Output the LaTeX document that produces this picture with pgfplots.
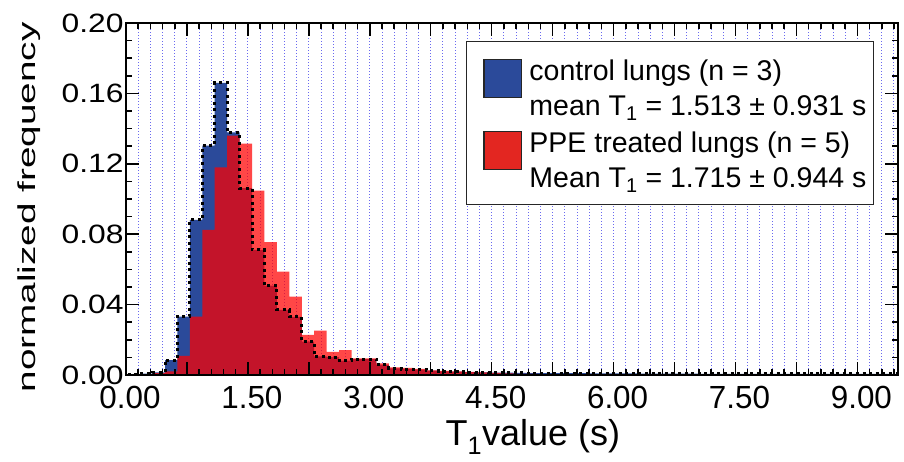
\documentclass[border=0pt]{standalone}
\usepackage{fontspec}
\setmainfont{Liberation Sans}
\usepackage{pgfplots}
\pgfplotsset{compat=1.18}
\usepackage{pgfplotstable}
\definecolor{ctrlblue}{RGB}{43,74,154}
\definecolor{ppered}{RGB}{255,0,0}
\definecolor{legred}{RGB}{227,38,33}
\definecolor{gridblue}{RGB}{105,105,240}

% left bin edge, normalized frequency
\pgfplotstableread{
x y
0.021 0.0005
0.174 0.0008
0.327 0.0015
0.480 0.0085
0.633 0.0332
0.786 0.0882
0.939 0.1303
1.092 0.1660
1.245 0.1378
1.398 0.1062
1.551 0.0711
1.704 0.0508
1.857 0.0370
2.010 0.0330
2.163 0.0190
2.316 0.0106
2.469 0.0101
2.622 0.0082
2.775 0.0090
2.928 0.0090
3.081 0.0058
3.234 0.0038
3.387 0.0033
3.540 0.0030
3.693 0.0025
3.846 0.0021
3.999 0.0019
4.152 0.0017
4.305 0.0015
4.458 0.0014
4.611 0.0013
4.764 0.0012
4.917 0.0011
5.070 0.0011
5.223 0.0010
5.376 0.0010
5.529 0.0010
5.682 0.0009
5.835 0.0009
5.988 0.0009
6.141 0.0009
6.294 0.0008
6.447 0.0008
6.600 0.0008
6.753 0.0008
6.906 0.0008
7.059 0.0007
7.212 0.0007
7.365 0.0007
7.518 0.0007
7.671 0.0007
7.824 0.0007
7.977 0.0006
8.130 0.0006
8.283 0.0006
8.436 0.0006
8.589 0.0006
8.742 0.0006
8.895 0.0006
9.048 0.0006
9.201 0.0006
9.354 0.0006
9.507 0.0006
}\controltab

\pgfplotstableread{
x y
0.021 0.0003
0.174 0.0005
0.327 0.0010
0.480 0.0020
0.633 0.0108
0.786 0.0332
0.939 0.0825
1.092 0.1180
1.245 0.1360
1.398 0.1314
1.551 0.1047
1.704 0.0755
1.857 0.0588
2.010 0.0445
2.163 0.0228
2.316 0.0252
2.469 0.0132
2.622 0.0142
2.775 0.0095
2.928 0.0095
3.081 0.0066
3.234 0.0043
3.387 0.0040
3.540 0.0035
3.693 0.0027
3.846 0.0024
3.999 0.0020
4.152 0.0018
4.305 0.0015
4.458 0.0012
4.611 0.0009
4.764 0.0007
4.917 0.0006
5.070 0.0005
5.223 0.0005
5.376 0.0004
5.529 0.0004
5.682 0.0004
5.835 0.0003
5.988 0.0003
6.141 0.0003
6.294 0.0003
6.447 0.0003
6.600 0.0003
6.753 0.0002
6.906 0.0002
7.059 0.0002
7.212 0.0002
7.365 0.0002
7.518 0.0002
7.671 0.0002
7.824 0.0002
7.977 0.0002
8.130 0.0002
8.283 0.0002
8.436 0.0002
8.589 0.0002
8.742 0.0002
8.895 0.0002
9.048 0.0002
9.201 0.0002
9.354 0.0002
9.507 0.0002
}\ppetab

\newcommand{\xtl}[1]{\scalebox{0.98}[1]{#1}}
\newcommand{\ytl}[1]{\scalebox{1.2}[1]{#1}}
\newcommand{\swatch}[1]{\raisebox{-16pt}[0pt][0pt]{\setlength{\fboxsep}{0pt}\setlength{\fboxrule}{1.2pt}\fcolorbox{black!85}{#1}{\rule{0pt}{36.6pt}\hspace{36.6pt}}}}

\pgfplotsset{
  commonframe/.style={
    at={(126pt,86pt)}, anchor=south west,
    scale only axis, width=772pt, height=352pt,
    xmin=0, xmax=9.5, ymin=0, ymax=0.2,
  }
}

\begin{document}
\begin{tikzpicture}
% background axis: only the dotted vertical grid
\begin{axis}[
  commonframe,
  axis line style={draw=none},
  tick style={draw=none},
  xtick={0,0.75,1.5,2.25,3,3.75,4.5,5.25,6,6.75,7.5,8.25,9},
  minor xtick={0.15,0.3,0.45,0.6,0.9,1.05,1.2,1.35,1.65,1.8,1.95,2.1,2.4,2.55,2.7,2.85,3.15,3.3,3.45,3.6,3.9,4.05,4.2,4.35,4.65,4.8,4.95,5.1,5.4,5.55,5.7,5.85,6.15,6.3,6.45,6.6,6.9,7.05,7.2,7.35,7.65,7.8,7.95,8.1,8.4,8.55,8.7,8.85,9.15,9.3,9.45},
  xticklabels={}, ytick=\empty,
  xmajorgrids, xminorgrids,
  grid style={gridblue, line width=0.9pt, dash pattern=on 1pt off 2pt},
  minor grid style={gridblue, line width=0.9pt, dash pattern=on 1pt off 2pt},
]
\end{axis}
% main axis
\begin{axis}[
  commonframe,
  axis on top,
  axis line style={black, line width=1.6pt},
  tick align=inside,
  tick style={black, line width=1.5pt},
  major tick length=13pt, minor tick length=6pt,
  xtick={0,0.75,1.5,2.25,3,3.75,4.5,5.25,6,6.75,7.5,8.25,9},
  xticklabels={\xtl{0.00},,\xtl{1.50},,\xtl{3.00},,\xtl{4.50},,\xtl{6.00},,\xtl{7.50},,\xtl{9.00}},
  minor xtick={0.15,0.3,0.45,0.6,0.9,1.05,1.2,1.35,1.65,1.8,1.95,2.1,2.4,2.55,2.7,2.85,3.15,3.3,3.45,3.6,3.9,4.05,4.2,4.35,4.65,4.8,4.95,5.1,5.4,5.55,5.7,5.85,6.15,6.3,6.45,6.6,6.9,7.05,7.2,7.35,7.65,7.8,7.95,8.1,8.4,8.55,8.7,8.85,9.15,9.3,9.45},
  ytick={0,0.04,0.08,0.12,0.16,0.2},
  yticklabels={\ytl{0.00},\ytl{0.04},\ytl{0.08},\ytl{0.12},\ytl{0.16},\ytl{0.20}},
  minor y tick num=3,
  xticklabel style={font=\fontsize{32}{32}\selectfont, xshift=4pt, yshift=-7.5pt},
  yticklabel style={font=\fontsize{26.5}{26.5}\selectfont, xshift=1pt},
  xlabel={T\textsubscript{1}value (s)},
  ylabel={\scalebox{1.58}[1]{normalized frequency}},
  xlabel style={font=\fontsize{36}{36}\selectfont, at={(axis description cs:0.527,-0.176)}, anchor=center},
  ylabel style={font=\fontsize{24.5}{24.5}\selectfont, at={(axis description cs:-0.125,0.476)}, anchor=center},
]
\addplot[const plot, fill=ctrlblue, draw=none]
  table[x=x, y=y] {\controltab} \closedcycle;
\addplot[const plot, fill=ppered, fill opacity=0.72, draw=none]
  table[x=x, y=y] {\ppetab} \closedcycle;
\addplot[const plot, draw=black, line width=3pt, dash pattern=on 3pt off 3.6pt]
  table[x=x, y=y] {\controltab};
\node[draw=black!85, line width=1.3pt, fill=white, anchor=north east, inner sep=0pt,
  font=\fontsize{28.5}{35}\selectfont]
  at (rel axis cs:0.969,0.949) {%
  \renewcommand{\arraystretch}{0.986}%
  \begin{tabular}{@{\hspace{17pt}}l@{\hspace{7pt}}l@{\hspace{7pt}}}
  \swatch{ctrlblue} & \rule{0pt}{39pt}control lungs (n = 3)\\
   & mean T\textsubscript{1} = 1.513 ± 0.931 s\\[3.2pt]
  \swatch{legred} & PPE treated lungs (n = 5)\\
   & \rule[-17.3pt]{0pt}{17.3pt}Mean T\textsubscript{1} = 1.715 ± 0.944 s
  \end{tabular}};
\end{axis}
\pgfresetboundingbox
\path[use as bounding box] (0pt,0pt) rectangle (904pt,461pt);
\end{tikzpicture}
\end{document}
